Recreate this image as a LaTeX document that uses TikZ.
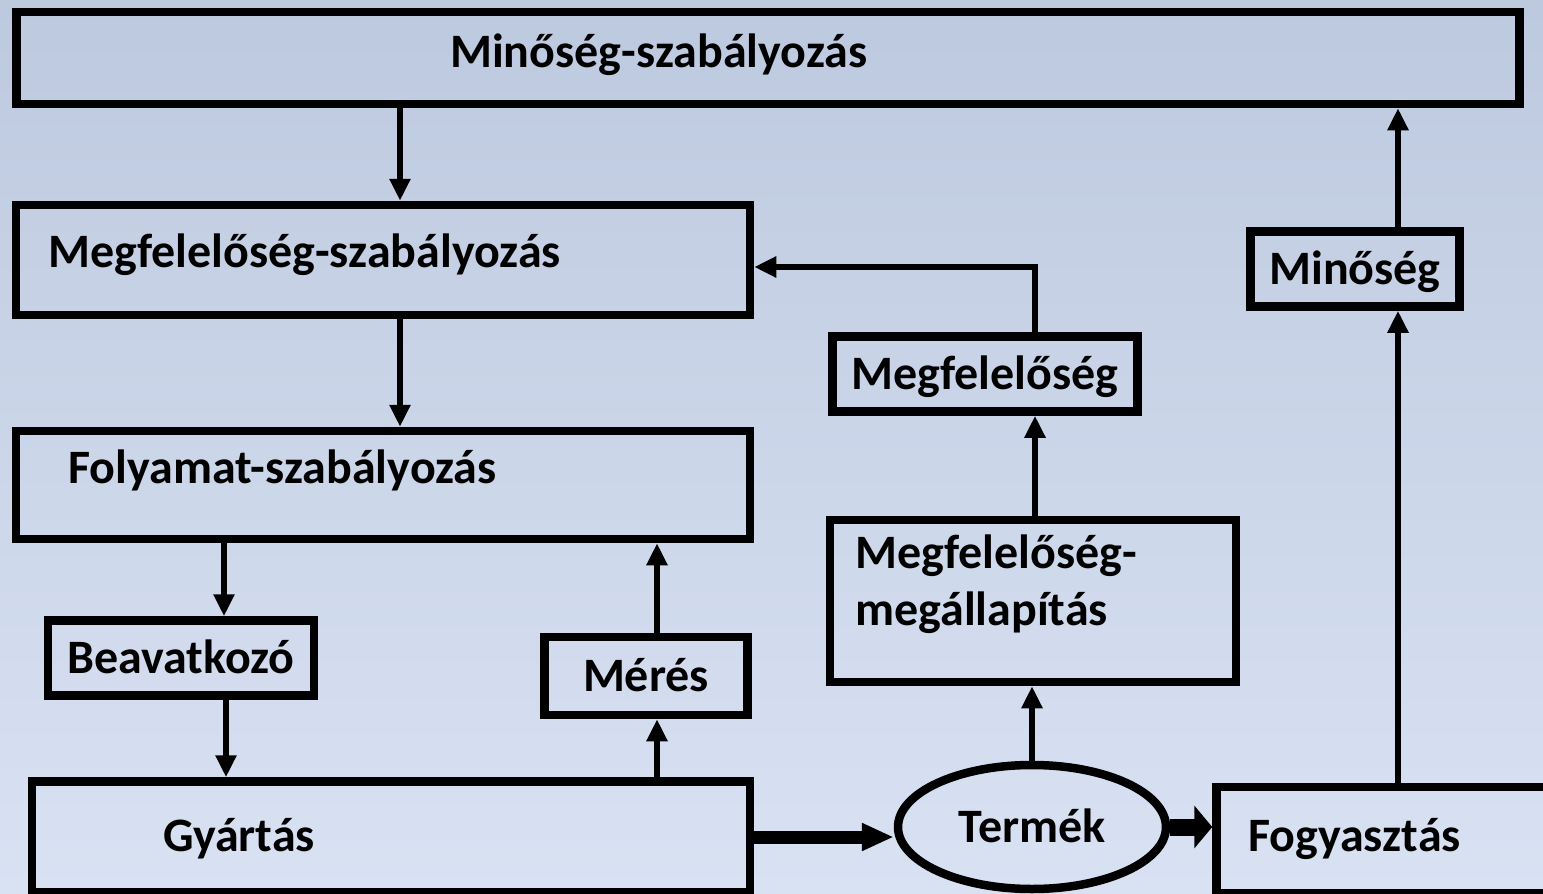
\documentclass[tikz,border=0pt]{standalone}
\usepackage{fontspec}
\setmainfont{Carlito}
\usetikzlibrary{positioning,arrows.meta,calc,shapes.geometric}
\definecolor{bgtop}{RGB}{189,201,223}
\definecolor{bgbottom}{RGB}{217,226,243}

\begin{document}
\begin{tikzpicture}[x=1pt, y=-1pt,
    box/.style={draw, line width=8.5pt, inner sep=0pt, text height=31pt, text depth=0pt,
        font=\fontsize{48}{57}\selectfont\bfseries},
    oval/.style={box, ellipse},
    txt/.style={font=\fontsize{48}{57}\selectfont\bfseries, anchor=base west, inner sep=0pt, align=left},
    arrow/.style={-{Triangle[length=22pt, width=20pt]}, line width=6.5pt},
    fat/.style={-{Triangle[length=32pt, width=26pt]}, line width=13pt},
    fatshort/.style={-{Triangle[length=18pt, width=42pt]}, line width=17pt}
]

% Page and background
\useasboundingbox (0,0) rectangle (1543,894);
\fill[top color=bgtop, bottom color=bgbottom] (0,0) rectangle (1543,894);

% Control levels (left column)
\node[box, minimum width=1503pt, minimum height=92pt] (qctrl) at (768,58) {};
\node[txt] (qctrl-t) at (450,67) {Minőség-szabályozás};

\node[box, minimum width=734pt, minimum height=110pt] (confctrl) at (383,260) {};
\node[txt] (confctrl-t) at (48,267) {Megfelelőség-szabályozás};

\node[box, minimum width=734pt, minimum height=108pt] (procctrl) at (383,485) {};
\node[txt] (procctrl-t) at (68,483) {Folyamat-szabályozás};

\node[box, minimum width=266pt, minimum height=75pt] (actuator) at (181,658) {Beavatkozó};
\node[box, minimum width=203pt, minimum height=78pt] (measure) at (646,676) {Mérés};

\node[box, minimum width=718pt, minimum height=111pt] (prod) at (391,837) {};
\node[txt] (prod-t) at (163,851) {Gyártás};

% Product and consumption
\node[oval, minimum width=268pt, minimum height=124pt] (product) at (1032,827) {Termék};

\node[box, minimum width=343pt, minimum height=106pt] (consume) at (1388,840) {};
\node[txt] (consume-t) at (1248,851) {Fogyasztás};

% Right column
\node[box, minimum width=406pt, minimum height=162pt] (confcheck) at (1033,601) {};
\node[txt] (confcheck-t) at (855,625) {Megfelelőség-\\megállapítás};

\node[box, minimum width=305pt, minimum height=75pt] (conform) at (985,374) {Megfelelőség};
\node[box, minimum width=209pt, minimum height=75pt] (quality) at (1355,269) {Minőség};

% Downward control arrows
\draw[arrow] ([xshift=17pt]confctrl.north |- qctrl.south) -- ([xshift=17pt]confctrl.north);
\draw[arrow] ([xshift=17pt]confctrl.south) -- ([xshift=17pt]confctrl.south |- procctrl.north);
\draw[arrow] ([xshift=43pt]actuator.north |- procctrl.south) -- ([xshift=43pt]actuator.north);
\draw[arrow] ([xshift=45pt]actuator.south) -- ([xshift=45pt]actuator.south |- prod.north);

% Measurement feedback
\draw[arrow] ([xshift=11pt]measure.south |- prod.north) -- ([xshift=11pt]measure.south);
\draw[arrow] ([xshift=11pt]measure.north) -- ([xshift=11pt]measure.north |- procctrl.south);

% Product flow
\draw[fat] (prod.east) -- (prod.east -| product.west);
\draw[fatshort] (product.east) -- (product.east -| consume.west);

% Conformity feedback
\draw[arrow] (product.north) -- (product.north |- confcheck.south);
\draw[arrow] ([xshift=2pt]confcheck.north) -- ([xshift=2pt]confcheck.north |- conform.south);
\draw[arrow] ([xshift=2pt]confcheck.north |- conform.north) |- ([yshift=-7pt]confctrl.east);

% Quality feedback
\draw[arrow] ([xshift=43pt]quality.south |- consume.north) -- ([xshift=43pt]quality.south);
\draw[arrow] ([xshift=43pt]quality.north) -- ([xshift=43pt]quality.north |- qctrl.south);

\end{tikzpicture}
\end{document}
